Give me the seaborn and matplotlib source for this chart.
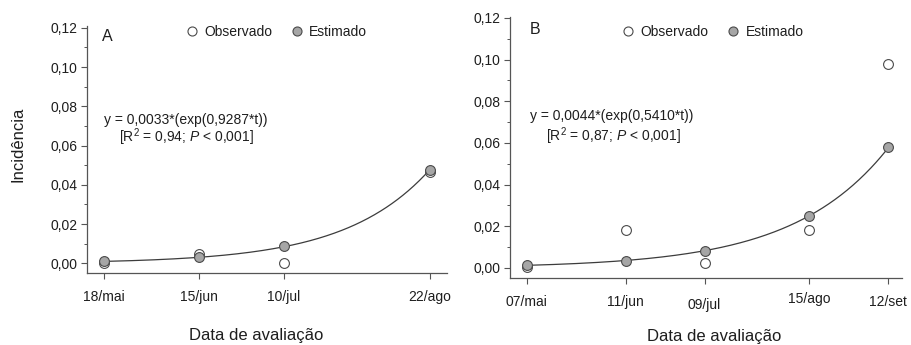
import numpy as np
import pandas as pd
import matplotlib
matplotlib.use("Agg")
import matplotlib.pyplot as plt
from matplotlib.ticker import MultipleLocator, FixedLocator, FixedFormatter
from matplotlib.lines import Line2D
from matplotlib.transforms import ScaledTranslation
import seaborn as sns

# ---- data -------------------------------------------------------------
# Panel A
dates_a = ["2013-05-18", "2013-06-15", "2013-07-10", "2013-08-22"]
labels_a = ["18/mai", "15/jun", "10/jul", "22/ago"]
obs_a = [0.0003, 0.0047, 0.0000, 0.0465]
est_a = [0.0010, 0.0031, 0.0086, 0.0475]
eq_a = "y = 0,0033*(exp(0,9287*t))"
stat_a = r"[R$^2$ = 0,94; $\mathit{P}$ < 0,001]"

# Panel B
dates_b = ["2013-05-07", "2013-06-11", "2013-07-09", "2013-08-15", "2013-09-12"]
labels_b = ["07/mai", "11/jun", "09/jul", "15/ago", "12/set"]
obs_b = [0.0005, 0.0180, 0.0022, 0.0184, 0.0977]
est_b = [0.0013, 0.0035, 0.0083, 0.0249, 0.0580]
eq_b = "y = 0,0044*(exp(0,5410*t))"
stat_b = r"[R$^2$ = 0,87; $\mathit{P}$ < 0,001]"

ytick_values = [0.00, 0.02, 0.04, 0.06, 0.08, 0.10, 0.12]
ytick_labels = ["0,00", "0,02", "0,04", "0,06", "0,08", "0,10", "0,12"]

# ---- style ------------------------------------------------------------
sns.set_style("ticks")
plt.rcParams["font.family"] = ["Liberation Sans", "DejaVu Sans"]
plt.rcParams["mathtext.fontset"] = "custom"
plt.rcParams["mathtext.rm"] = "Liberation Sans"
plt.rcParams["mathtext.it"] = "Liberation Sans:italic"
plt.rcParams["mathtext.default"] = "regular"

TEXT = "#1e1e1e"
AXIS = "#555555"
EDGE = "#4a4a4a"
FILL = "#a6a6a6"
LINE = "#3c3c3c"

fig = plt.figure(figsize=(9.11, 3.45), dpi=100)
W, H = 911, 345


def add_axes(left, right, top, bottom):
    return fig.add_axes([left / W, 1 - bottom / H, (right - left) / W, (bottom - top) / H])


def draw_panel(ax, dates, labels, obs, est, eq, stat, letter,
               xlim, ylim, leg_xy, letter_xy, eq_xy, stat_xy,
               xlabel_xy, ylabel_xy=None, label_shift=None):
    d = pd.to_datetime(pd.Series(dates))
    days = (d - d.iloc[0]).dt.days.to_numpy()
    df = pd.DataFrame({"dia": days, "obs": obs, "est": est})

    # exponential model fitted to the estimated values
    coef = np.polyfit(df["dia"], np.log(df["est"]), 1)
    grid = np.linspace(days.min(), days.max(), 300)
    curve = pd.DataFrame({"dia": grid, "y": np.exp(np.polyval(coef, grid))})

    sns.lineplot(data=curve, x="dia", y="y", ax=ax, color=LINE, lw=0.9, zorder=2)
    sns.scatterplot(data=df, x="dia", y="obs", ax=ax, s=50, color="white",
                    edgecolor=EDGE, linewidth=0.8, zorder=3)
    sns.scatterplot(data=df, x="dia", y="est", ax=ax, s=50, color=FILL,
                    edgecolor=EDGE, linewidth=0.8, zorder=4)

    ax.set_xlim(*xlim)
    ax.set_ylim(*ylim)
    ax.xaxis.set_major_locator(FixedLocator(days))
    ax.xaxis.set_major_formatter(FixedFormatter(labels))
    ax.yaxis.set_major_locator(FixedLocator(ytick_values))
    ax.yaxis.set_major_formatter(FixedFormatter(ytick_labels))
    ax.yaxis.set_minor_locator(MultipleLocator(0.01))

    sns.despine(ax=ax)
    for sp in ("left", "bottom"):
        ax.spines[sp].set_color(AXIS)
        ax.spines[sp].set_linewidth(0.9)
    ax.tick_params(axis="both", which="major", direction="out", length=4,
                   width=0.8, color=AXIS, labelsize=10, labelcolor=TEXT, pad=3)
    ax.tick_params(axis="y", which="minor", direction="out", length=2.5,
                   width=0.7, color=AXIS)
    ax.tick_params(axis="x", pad=8)

    if label_shift is not None:
        for lab, dy in zip(ax.get_xticklabels(), label_shift):
            lab.set_transform(lab.get_transform() +
                              ScaledTranslation(0, -dy / 100, fig.dpi_scale_trans))

    ax.set_xlabel("Data de avaliação", fontsize=12, color=TEXT)
    ax.xaxis.set_label_coords(*xlabel_xy)
    ax.xaxis.label.set_va("center")
    if ylabel_xy is not None:
        ax.set_ylabel("Incidência", fontsize=12, color=TEXT)
        ax.yaxis.set_label_coords(*ylabel_xy)
        ax.yaxis.label.set_va("center")
    else:
        ax.set_ylabel("")

    ax.text(*letter_xy, letter, transform=ax.transAxes, fontsize=11.5,
            color=TEXT, ha="left", va="center")
    ax.text(*eq_xy, eq, transform=ax.transAxes, fontsize=10,
            color=TEXT, ha="left", va="center")
    ax.text(*stat_xy, stat, transform=ax.transAxes, fontsize=10,
            color=TEXT, ha="left", va="center")

    handles = [
        Line2D([], [], ls="", marker="o", ms=6.5, mfc="white", mec=EDGE, mew=0.8),
        Line2D([], [], ls="", marker="o", ms=6.5, mfc=FILL, mec=EDGE, mew=0.8),
    ]
    leg = ax.legend(handles, ["Observado", "Estimado"], ncol=2, frameon=False,
                    loc="center", bbox_to_anchor=leg_xy, fontsize=10,
                    handlelength=0.7, handletextpad=0.55, columnspacing=1.4,
                    borderpad=0, borderaxespad=0)
    for t in leg.get_texts():
        t.set_color(TEXT)


ax_a = add_axes(87, 447, 26, 273)
draw_panel(ax_a, dates_a, labels_a, obs_a, est_a, eq_a, stat_a, "A",
           xlim=(-5, 101), ylim=(-0.0049, 0.1209),
           leg_xy=(0.528, 0.976), letter_xy=(0.042, 0.957),
           eq_xy=(0.047, 0.618), stat_xy=(0.089, 0.548),
           xlabel_xy=(0.469, -0.255), ylabel_xy=(-0.192, 0.522))

ax_b = add_axes(510, 902, 17, 278)
draw_panel(ax_b, dates_b, labels_b, obs_b, est_b, eq_b, stat_b, "B",
           xlim=(-6, 133), ylim=(-0.0048, 0.1204),
           leg_xy=(0.519, 0.9425), letter_xy=(0.05, 0.954),
           eq_xy=(0.051, 0.621), stat_xy=(0.092, 0.545),
           xlabel_xy=(0.52, -0.226), label_shift=[0, 0, 3.5, -2.3, 0])

fig.savefig("out.png", dpi=100)
